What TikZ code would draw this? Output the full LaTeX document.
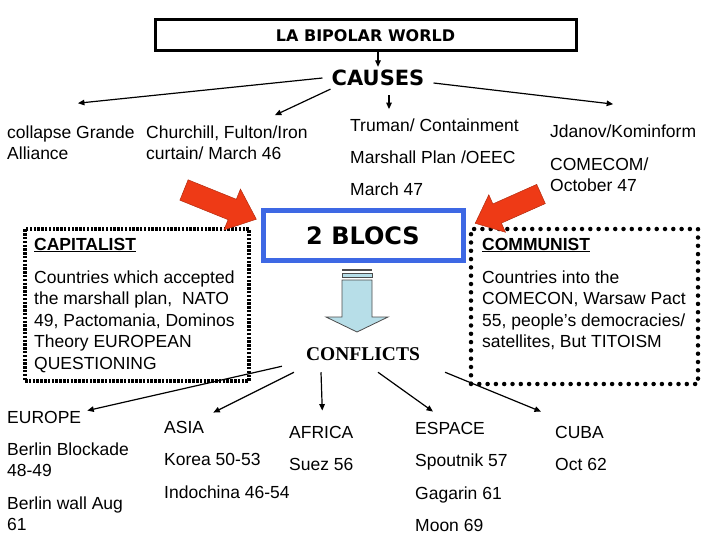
\documentclass[tikz,border=0pt]{standalone}
\usepackage{fontspec}
\setmainfont{Liberation Sans}
\newfontfamily\headfont{DejaVu Sans}
\newfontfamily\seriffont{Liberation Serif}
\usetikzlibrary{arrows.meta}

\definecolor{blocblue}{RGB}{62,104,228}
\definecolor{arrowred}{RGB}{238,58,22}
\definecolor{paleblue}{RGB}{183,222,232}

\tikzset{
  txt/.style={inner sep=0pt, font=\fontsize{17.5}{21.5}\selectfont, align=left},
  arr/.style={-{Triangle[length=6.5pt,width=5.5pt]}, line width=1.2pt},
  redarrow/.style={fill=arrowred, draw=arrowred!75!black, line width=0.5pt},
  blockarr/.style={fill=paleblue, draw=black!70, line width=0.8pt},
  capframe/.style={draw, line width=3.5pt, dash pattern=on 2.5pt off 1.3pt},
  comframe/.style={draw, line width=4.5pt, dash pattern=on 0pt off 8.3pt, line cap=round}
}

\begin{document}
\begin{tikzpicture}[x=1pt, y=-1pt]
    \useasboundingbox (0,0) rectangle (720,540);

    % top
    \node[draw, line width=3pt, minimum width=421pt, minimum height=31pt,
          font=\headfont\bfseries\fontsize{16}{19}\selectfont] (title) at (365.5,35.5) {LA BIPOLAR WORLD};
    \node[inner xsep=9pt, inner ysep=3pt, font=\headfont\bfseries\fontsize{21}{25}\selectfont] (causes) at (378,78) {CAUSES};
    \draw[arr] (title.south -| causes.north) -- (causes.north);

    % causes
    \node[txt, anchor=north west] (coll) at (7,125.2) {collapse Grande\\Alliance};
    \node[txt, anchor=north west] (church) at (146,125.2) {Churchill, Fulton/Iron\\curtain/ March 46};
    \node[txt, anchor=base west] (truman) at (350,132) {Truman/ Containment};
    \node[txt, anchor=base west] (marshall) at (350,164) {Marshall Plan /OEEC};
    \node[txt, anchor=base west] (march) at (350,196) {March 47};
    \node[txt, anchor=base west] (jdanov) at (550,138) {Jdanov/Kominform};
    \node[txt, anchor=north west] (comecom) at (550,157.2) {COMECOM/\\October 47};

    \draw[arr] (causes.west) -- ([shift={(7pt,22pt)}]coll.north);
    \draw[arr] ([xshift=8pt]causes.south west) -- ([shift={(-33pt,10pt)}]church.north east);
    \draw[arr, shorten <=6pt] ([xshift=11pt]causes.south) -- ([shift={(39pt,10pt)}]truman.north west);
    \draw[arr] ([yshift=-5pt]causes.east) -- ([shift={(-10pt,21pt)}]jdanov.north);

    % blocs
    \node[draw=blocblue, line width=5pt, minimum width=200pt, minimum height=49pt,
          font=\headfont\bfseries\fontsize{24}{28}\selectfont] (blocs) at (363,235.5) {2 BLOCS};

    \node[capframe, minimum width=224pt, minimum height=152pt] (capbox) at (137,305) {};
    \node[comframe, minimum width=227pt, minimum height=155pt] (combox) at (584.5,306.5) {};

    \node[txt, font=\fontsize{17.5}{21.5}\selectfont\bfseries, anchor=base west] (caphead) at (34,250) {\underline{CAPITALIST}};
    \node[txt, anchor=north west] (capbody) at (34,270.2)
        {Countries which accepted\\the marshall plan,~ NATO\\49, Pactomania, Dominos\\Theory EUROPEAN\\QUESTIONING};
    \node[txt, font=\fontsize{17.5}{21.5}\selectfont\bfseries, anchor=base west] (comhead) at (482,250) {\underline{COMMUNIST}};
    \node[txt, anchor=north west] (combody) at (482,270.2)
        {Countries into the\\COMECON, Warsaw Pact\\55, people’s democracies/\\satellites, But TITOISM};

    % red arrows into the blocs
    \draw[redarrow, shift={(184,190)}, rotate=-22]
        (0,-11) -- (52,-11) -- (52,-22) -- (78,0) -- (52,22) -- (52,11) -- (0,11) -- cycle;
    \draw[redarrow, shift={(541,194)}, rotate=-156]
        (0,-10.5) -- (48,-10.5) -- (48,-20.5) -- (72,0) -- (48,20.5) -- (48,10.5) -- (0,10.5) -- cycle;

    % arrow down to conflicts
    \draw[blockarr, fill=none, line width=1.5pt] (342,270) -- (372,270);
    \draw[blockarr] (342,273) rectangle (372,277.5);
    \draw[blockarr] (342,280) -- (372,280) -- (372,317) -- (388,317) -- (357,332)
        -- (326,317) -- (342,317) -- cycle;

    \node[inner sep=3pt, font=\seriffont\bfseries\fontsize{19.5}{22}\selectfont] (conflicts) at (363,354) {CONFLICTS};

    % conflicts
    \node[txt, anchor=base west] (europe) at (7,423) {EUROPE};
    \node[txt, anchor=north west] (berlin) at (7,442.2) {Berlin Blockade\\48-49};
    \node[txt, anchor=north west] (wall) at (7,496.2) {Berlin wall Aug\\61};
    \node[txt, anchor=base west] (asia) at (164,433) {ASIA};
    \node[txt, anchor=base west] (korea) at (164,465) {Korea 50-53};
    \node[txt, anchor=base west] (indochina) at (164,498) {Indochina 46-54};
    \node[txt, anchor=base west] (africa) at (289,438) {AFRICA};
    \node[txt, anchor=base west] (suez) at (289,470) {Suez 56};
    \node[txt, anchor=base west] (espace) at (415,434) {ESPACE};
    \node[txt, anchor=base west] (spoutnik) at (415,466) {Spoutnik 57};
    \node[txt, anchor=base west] (gagarin) at (415,499) {Gagarin 61};
    \node[txt, anchor=base west] (moon) at (415,531) {Moon 69};
    \node[txt, anchor=base west] (cuba) at (555,438) {CUBA};
    \node[txt, anchor=base west] (oct) at (555,470) {Oct 62};

    \draw[arr] ([shift={(-21pt,-2.5pt)}]conflicts.south west) -- ([xshift=6pt]europe.north east);
    \draw[arr] ([shift={(-9pt,-8.5pt)}]conflicts.south west) -- ([shift={(9pt,8pt)}]asia.north east);
    \draw[arr] ([shift={(-42pt,-8.5pt)}]conflicts.south) -- ([shift={(1pt,15pt)}]africa.north);
    \draw[arr] ([shift={(15pt,-8.5pt)}]conflicts.south) -- ([shift={(18pt,10pt)}]espace.north west);
    \draw[arr] ([shift={(22pt,-8.5pt)}]conflicts.south east) -- ([shift={(-14pt,14pt)}]cuba.north west);
\end{tikzpicture}
\end{document}
